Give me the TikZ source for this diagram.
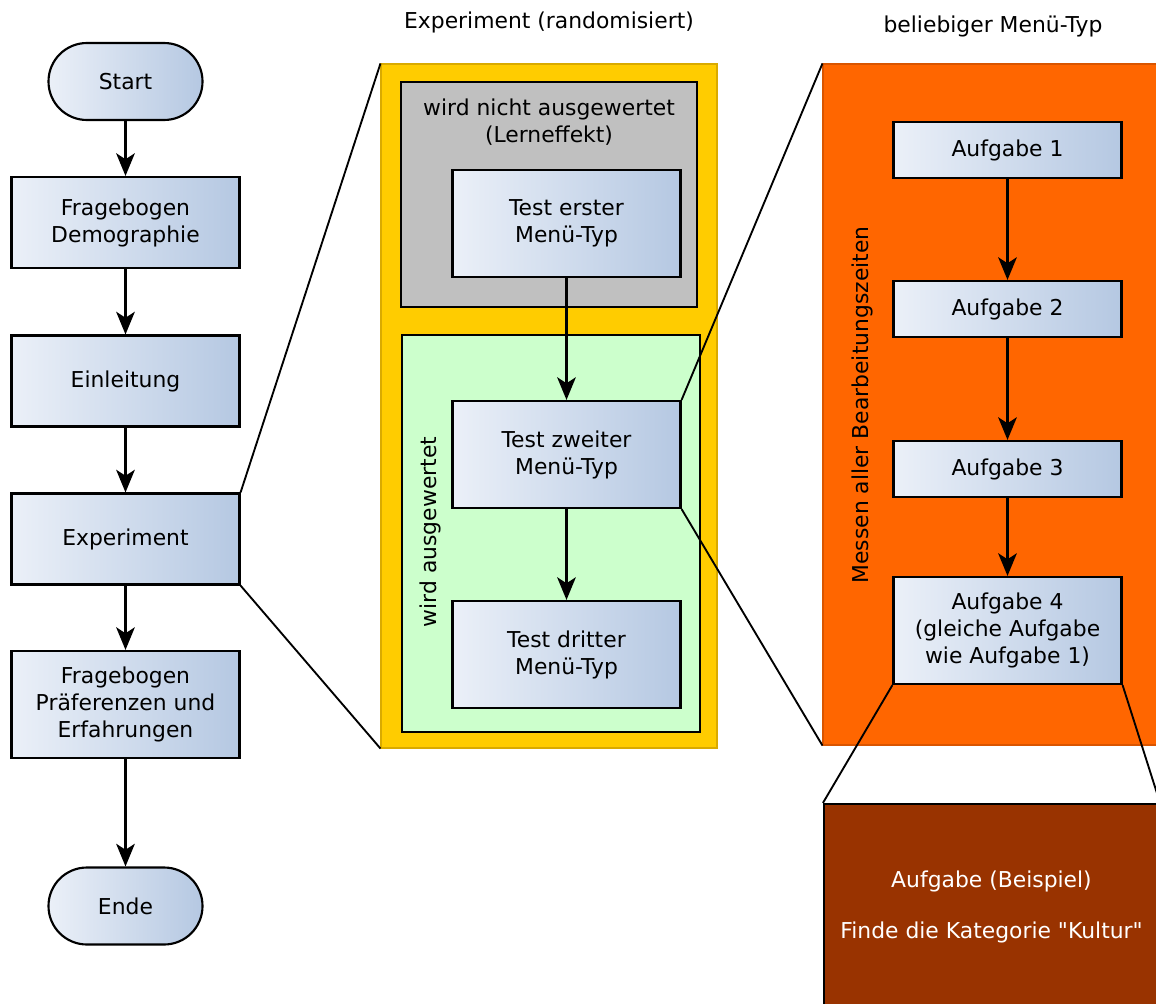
\documentclass[tikz,border=0pt]{standalone}
\usepackage{fontspec}
\setmainfont{DejaVu Sans}
\usetikzlibrary{arrows.meta,positioning}

\definecolor{boxhell}{HTML}{EBF0F8}
\definecolor{boxdunkel}{HTML}{B5C8E2}
\definecolor{gelb}{HTML}{FFCC00}
\definecolor{gelbrand}{HTML}{D9AA00}
\definecolor{grau}{HTML}{C0C0C0}
\definecolor{gruen}{HTML}{CCFFCC}
\definecolor{orange}{HTML}{FF6600}
\definecolor{orangerand}{HTML}{D95500}
\definecolor{braun}{HTML}{993300}

\begin{document}
\begin{tikzpicture}[x=0.75pt, y=-0.75pt, font=\fontsize{16.4}{20.25}\selectfont]
		\tikzstyle{Kasten}	= [rectangle, draw, line width=1.6pt, left color=boxhell, right color=boxdunkel, align=center, inner sep=0pt, minimum width=171pt, minimum height=68.25pt]
		\tikzstyle{Rund}	= [Kasten, rounded corners=28.8pt, minimum width=115.5pt, minimum height=57.75pt]
		\tikzstyle{Hoch}	= [minimum height=80.25pt]
		\tikzstyle{Flach}	= [minimum height=42pt]
		\tikzstyle{Feld}	= [rectangle, inner sep=0pt]
		\tikzstyle{Pfeil}	= [line width=1.6pt, -{Stealth[length=17pt, width=14pt, inset=4.5pt]}]
		\tikzstyle{Lupe}	= [line width=1.4pt]

		\useasboundingbox (0,0) rectangle (1156,1003);
		\clip (0,0) rectangle (1156,1003);

		% Hintergrundfelder
		\node (gelbfeld) at (549, 406) [Feld, fill=gelb, draw=gelbrand, line width=0.8pt, minimum width=252pt, minimum height=513pt] {};
		\node (graufeld) at (549, 194.5) [Feld, fill=grau, draw, line width=1.6pt, minimum width=222pt, minimum height=168.75pt] {};
		\node (gruenfeld) at (551, 533.5) [Feld, fill=gruen, draw, line width=1.6pt, minimum width=223.5pt, minimum height=297.75pt] {};
		\node (orangefeld) at (991, 404.5) [Feld, fill=orange, draw=orangerand, line width=0.8pt, minimum width=252pt, minimum height=510.75pt] {};
		\node (beispiel) at (991.5, 907) [Feld, fill=braun, draw, line width=1.6pt, minimum width=251.25pt, minimum height=154.5pt, text=white, align=center] {Aufgabe (Beispiel)\\[18pt]Finde die Kategorie \textquotedbl Kultur\textquotedbl};

		% Beschriftungen
		\node (titelexp) at (549, 22) {Experiment (randomisiert)};
		\node (titelmenu) at (993, 26) {beliebiger Menü-Typ};
		\node (grautext) at (549, 122.5) [align=center] {wird nicht ausgewertet\\(Lerneffekt)};
		\node (gruentext) at (430, 532) [rotate=90] {wird ausgewertet};
		\node (messen) at (862, 405) [rotate=90] {Messen aller Bearbeitungszeiten};

		% Ablauf links
		\node (start) at (125.5, 81.5) [Rund] {Start};
		\node (demo) at (125.5, 222.5) [Kasten] {Fragebogen\\Demographie};
		\node (einl) at (125.5, 381) [Kasten] {Einleitung};
		\node (exper) at (125.5, 539) [Kasten] {Experiment};
		\node (praef) at (125.5, 704.5) [Kasten][Hoch] {Fragebogen\\Präferenzen und\\Erfahrungen};
		\node (ende) at (125.5, 906) [Rund] {Ende};

		% Experiment
		\node (test1) at (566.5, 223.5) [Kasten][Hoch] {Test erster\\Menü-Typ};
		\node (test2) at (566.5, 454.5) [Kasten][Hoch] {Test zweiter\\Menü-Typ};
		\node (test3) at (566.5, 654.5) [Kasten][Hoch] {Test dritter\\Menü-Typ};

		% Aufgaben
		\node (auf1) at (1007.5, 150) [Kasten][Flach] {Aufgabe 1};
		\node (auf2) at (1007.5, 309) [Kasten][Flach] {Aufgabe 2};
		\node (auf3) at (1007.5, 469) [Kasten][Flach] {Aufgabe 3};
		\node (auf4) at (1007.5, 630.5) [Kasten][Hoch] {Aufgabe 4\\(gleiche Aufgabe\\wie Aufgabe 1)};

		\draw (start) to (demo) [Pfeil];
		\draw (demo) to (einl) [Pfeil];
		\draw (einl) to (exper) [Pfeil];
		\draw (exper) to (praef) [Pfeil];
		\draw (praef) to (ende) [Pfeil];

		\draw (test1) to (test2) [Pfeil];
		\draw (test2) to (test3) [Pfeil];

		\draw (auf1) to (auf2) [Pfeil];
		\draw (auf2) to (auf3) [Pfeil];
		\draw (auf3) to (auf4) [Pfeil];

		% Vergroesserungslinien
		\draw (exper.north east) to (gelbfeld.north west) [Lupe];
		\draw (exper.south east) to (gelbfeld.south west) [Lupe];
		\draw (test2.north east) to (orangefeld.north west) [Lupe];
		\draw (test2.south east) to (orangefeld.south west) [Lupe];
		\draw (auf4.south west) to (beispiel.north west) [Lupe];
		\draw (auf4.south east) to (beispiel.north east) [Lupe];
	\end{tikzpicture}
\end{document}
